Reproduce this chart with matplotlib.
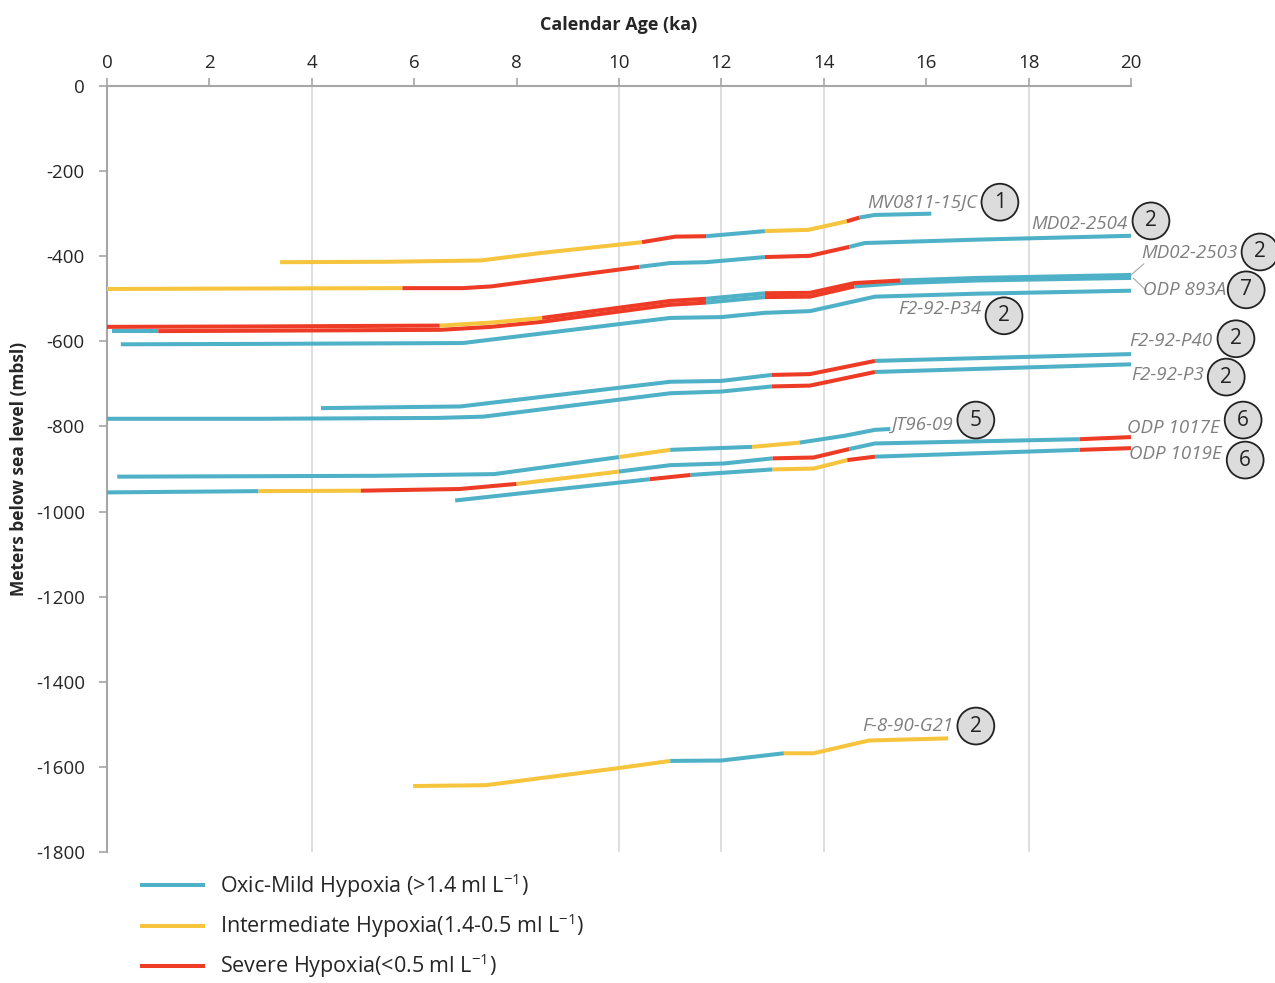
import matplotlib
matplotlib.use("Agg")
import matplotlib.pyplot as plt
from matplotlib.lines import Line2D

plt.rcParams["font.family"] = ["Open Sans", "DejaVu Sans"]
plt.rcParams["mathtext.default"] = "regular"
plt.rcParams["axes.unicode_minus"] = False

# couleurs par classe d'oxygene (O = oxic/mild, I = intermediate, S = severe)
COLORS = {"O": "#4fb1c7", "I": "#f6c53d", "S": "#ee3b26"}

# --- carottes : age (ka), profondeur (m), statut par segment ---
mv0811_age = [3.38, 5.5, 7.3, 8.5, 10.45, 11.1, 11.7, 12.85, 13.7, 14.45, 14.7, 15.0, 16.1]
mv0811_depth = [-414, -413, -410, -392, -367, -354, -353, -341, -338, -318, -309, -303, -300]
mv0811_status = "IIIISSOIISOO"

md2504_age = [0, 2.5, 5.77, 6.95, 7.5, 10.4, 11.0, 11.7, 12.85, 13.73, 14.5, 14.8, 17, 20]
md2504_depth = [-477, -476, -475, -475, -471, -425, -416, -414, -402, -399, -378, -369, -361, -352]
md2504_status = "IISSSOOOSSOOO"

md2503_age = [0, 3, 6.5, 7.5, 8.5, 11.0, 11.7, 12.85, 13.73, 14.6, 15.5, 17, 20]
md2503_depth = [-566, -565, -563, -556, -545, -505, -500, -487, -486, -463, -457, -451, -444]
md2503_status = "SSIISSOSSSOO"

odp893_age = [0.1, 1.0, 3, 6.5, 7.5, 8.5, 11.0, 11.7, 12.85, 13.73, 14.6, 15.5, 17, 20]
odp893_depth = [-576, -576, -575, -573, -566, -554, -514, -509, -496, -495, -471, -463, -457, -451]
odp893_status = "OSSSSSSOSSOOO"

p34_age = [0.27, 3, 6.95, 11.0, 12.0, 12.85, 13.73, 15.0, 17, 20]
p34_depth = [-607, -606, -604, -545, -543, -533, -529, -495, -488, -481]
p34_status = "OOOOOOOOO"

p40_age = [4.18, 6.9, 11.0, 12.0, 12.98, 13.73, 15.0, 17.5, 20]
p40_depth = [-757, -753, -695, -693, -679, -677, -646, -638, -630]
p40_status = "OOOOSSOO"

p3_age = [0, 3, 6.45, 7.35, 11.0, 12.0, 12.98, 13.73, 15.0, 17.5, 20]
p3_depth = [-782, -782, -780, -777, -722, -718, -706, -704, -672, -663, -654]
p3_status = "OOOOOOSSOO"

jt96_age = [0.2, 5.25, 7.56, 10.0, 11.0, 12.6, 13.53, 14.4, 15.0, 15.3]
jt96_depth = [-918, -916, -912, -872, -855, -848, -838, -822, -808, -806]
jt96_status = "OOOIOIOOO"

odp1017_age = [0, 2.96, 4.96, 6.89, 8.0, 10.0, 11.0, 12.05, 13.0, 13.8, 14.5, 15.0, 19.0, 20]
odp1017_depth = [-955, -952, -951, -947, -935, -906, -891, -887, -875, -873, -853, -840, -830, -825]
odp1017_status = "OISSIOOOSSOOS"

odp1019_age = [6.8, 10.6, 11.4, 13.0, 13.8, 14.46, 15.0, 19.0, 20]
odp1019_depth = [-974, -924, -914, -901, -899, -879, -871, -855, -851]
odp1019_status = "OSOIISOS"

g21_age = [5.98, 7.4, 9.98, 11.0, 12.0, 13.22, 13.8, 14.88, 16.43]
g21_depth = [-1645, -1643, -1603, -1586, -1585, -1568, -1568, -1538, -1533]
g21_status = "IIIOOIII"

cores = [
    (mv0811_age, mv0811_depth, mv0811_status),
    (md2504_age, md2504_depth, md2504_status),
    (odp893_age, odp893_depth, odp893_status),
    (md2503_age, md2503_depth, md2503_status),
    (p34_age, p34_depth, p34_status),
    (p40_age, p40_depth, p40_status),
    (p3_age, p3_depth, p3_status),
    (jt96_age, jt96_depth, jt96_status),
    (odp1017_age, odp1017_depth, odp1017_status),
    (odp1019_age, odp1019_depth, odp1019_status),
    (g21_age, g21_depth, g21_status),
]

# etiquettes : nom, reference, position du texte (fin), position du cercle
label_names = ["MV0811-15JC", "MD02-2504", "MD02-2503", "ODP 893A", "F2-92-P34", "F2-92-P40",
               "F2-92-P3", "JT96-09", "ODP 1017E", "ODP 1019E", "F-8-90-G21"]
label_refs = ["1", "2", "2", "7", "2", "2", "2", "5", "6", "6", "2"]
label_text_xy = [(17.0, -275), (19.93, -324), (22.08, -392), (21.85, -479), (17.08, -524), (21.6, -599),
                 (21.42, -679), (16.53, -797), (21.73, -804), (21.77, -865), (16.53, -1504)]
label_circle_xy = [(17.44, -273), (20.39, -317), (22.52, -390), (22.25, -479), (17.52, -540), (22.05, -594),
                   (21.86, -684), (16.97, -785), (22.19, -785), (22.23, -879), (16.97, -1504)]

fig = plt.figure(figsize=(12.75, 9.83), dpi=100)
ax = fig.add_axes([107 / 1275, 1 - 852 / 983, 1024 / 1275, 766 / 983])

for x in [4, 10, 12, 14, 18]:
    ax.axvline(x, color="#d9d9d9", lw=1.2, zorder=0)


def draw_core(age, depth, status):
    # regroupe les segments consecutifs de meme statut
    start = 0
    for i in range(1, len(status) + 1):
        if i == len(status) or status[i] != status[start]:
            ax.plot(age[start:i + 1], depth[start:i + 1], color=COLORS[status[start]], lw=2.9,
                    solid_capstyle="butt", solid_joinstyle="round", zorder=3)
            start = i


for age, depth, status in cores:
    draw_core(age, depth, status)

for name, ref, (tx, ty), (cx, cy) in zip(label_names, label_refs, label_text_xy, label_circle_xy):
    ax.text(tx, ty, name, ha="right", va="center", style="italic", color="#7f7f7f",
            fontsize=13.5, clip_on=False, zorder=5)
    ax.text(cx, cy, ref, ha="center", va="center", color="#222222", fontsize=15, clip_on=False,
            zorder=5, bbox=dict(boxstyle="circle,pad=0.38", fc="#dcdcdc", ec="#222222", lw=1.3))

# traits de rappel MD02-2503 / ODP 893A
ax.plot([20.0, 20.25], [-444, -418], color="#a6a6a6", lw=0.8, clip_on=False)
ax.plot([20.05, 20.3], [-452, -481], color="#a6a6a6", lw=0.8, clip_on=False)

ax.set_xlim(0, 20)
ax.set_ylim(-1800, 0)
ax.set_xticks(range(0, 21, 2))
ax.set_yticks(range(-1800, 1, 200))
ax.xaxis.tick_top()
ax.xaxis.set_label_position("top")
for s in ["right", "bottom"]:
    ax.spines[s].set_visible(False)
for s in ["top", "left"]:
    ax.spines[s].set_color("#a6a6a6")
    ax.spines[s].set_linewidth(1.5)
ax.tick_params(axis="both", colors="#a6a6a6", width=1.2, length=6, labelsize=13.5, labelcolor="#262626")
ax.tick_params(axis="x", pad=4)
ax.tick_params(axis="y", pad=10)

ax.set_xlabel("Calendar Age (ka)", fontsize=13, fontweight="bold", color="#262626", labelpad=17)
ax.set_ylabel("Meters below sea level (mbsl)", fontsize=12.5, fontweight="bold", color="#262626")
ax.yaxis.set_label_coords(-79 / 1024, 0.5)

handles = [Line2D([0], [0], color=COLORS[k], lw=2.9) for k in "OIS"]
labels = ["Oxic-Mild Hypoxia (>1.4 ml L$^{-1}$)",
          "Intermediate Hypoxia(1.4-0.5 ml L$^{-1}$)",
          "Severe Hypoxia(<0.5 ml L$^{-1}$)"]
fig.legend(handles, labels, loc="upper left", bbox_to_anchor=(142 / 1275, 1 - 871 / 983),
           frameon=False, fontsize=15.5, handlelength=2.85, handletextpad=0.75, labelspacing=0.55,
           borderpad=0, borderaxespad=0, labelcolor="#262626")

fig.savefig("out.png", dpi=100)
